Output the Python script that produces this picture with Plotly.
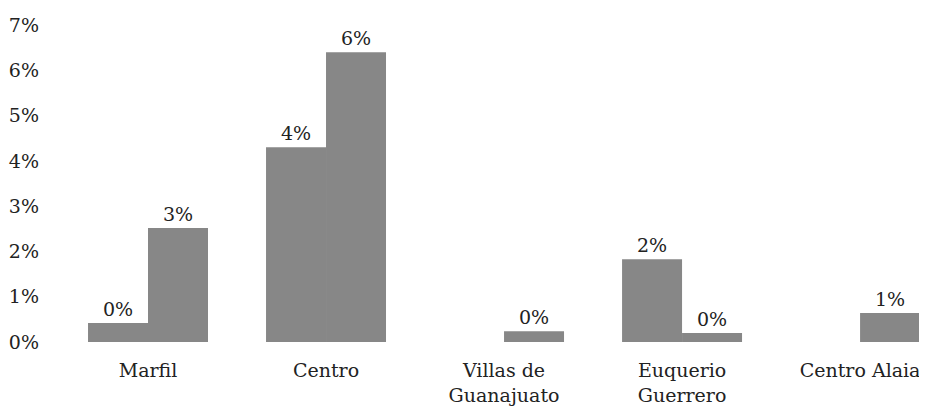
import plotly.graph_objects as go

categories = ['Marfil', 'Centro', 'Villas de<br>Guanajuato', 'Euquerio<br>Guerrero', 'Centro Alaia']
serie_1 = [0.0042, 0.043, None, 0.0183, None]
serie_2 = [0.0252, 0.064, 0.0024, 0.0020, 0.0064]
y_ticks = [0, 0.01, 0.02, 0.03, 0.04, 0.05, 0.06, 0.07]

bar_color = '#878787'
text_color = '#222222'
font_family = 'DejaVu Serif'

fig = go.Figure()
for vals, name in [(serie_1, 'Serie 1'), (serie_2, 'Serie 2')]:
    fig.add_trace(go.Bar(x=categories, y=vals, name=name,
                         marker=dict(color=bar_color, line=dict(width=0)),
                         texttemplate='%{y:.0%}', textposition='outside',
                         textfont=dict(size=19, color=text_color, family=font_family),
                         cliponaxis=False))

# page body has an 8px margin, so the figure is trimmed by that amount
fig.update_layout(
    width=919, height=412,
    margin=dict(l=51, r=0, t=17, b=78, autoexpand=False),
    paper_bgcolor='white', plot_bgcolor='white',
    barmode='group', bargap=0.326, bargroupgap=0,
    showlegend=False,
    font=dict(family=font_family, size=19, color=text_color),
)
fig.update_xaxes(range=[-0.5, 4.376], showline=False, showgrid=False, zeroline=False,
                 ticks='', ticklabelstandoff=15, automargin=False, tickfont=dict(size=19))
fig.update_yaxes(range=[0, 0.07], tickvals=y_ticks, tickformat='.0%',
                 showgrid=False, zeroline=False, showline=False,
                 ticks='', ticklabelstandoff=19, automargin=False, tickfont=dict(size=19))

fig.write_html("out.html")
